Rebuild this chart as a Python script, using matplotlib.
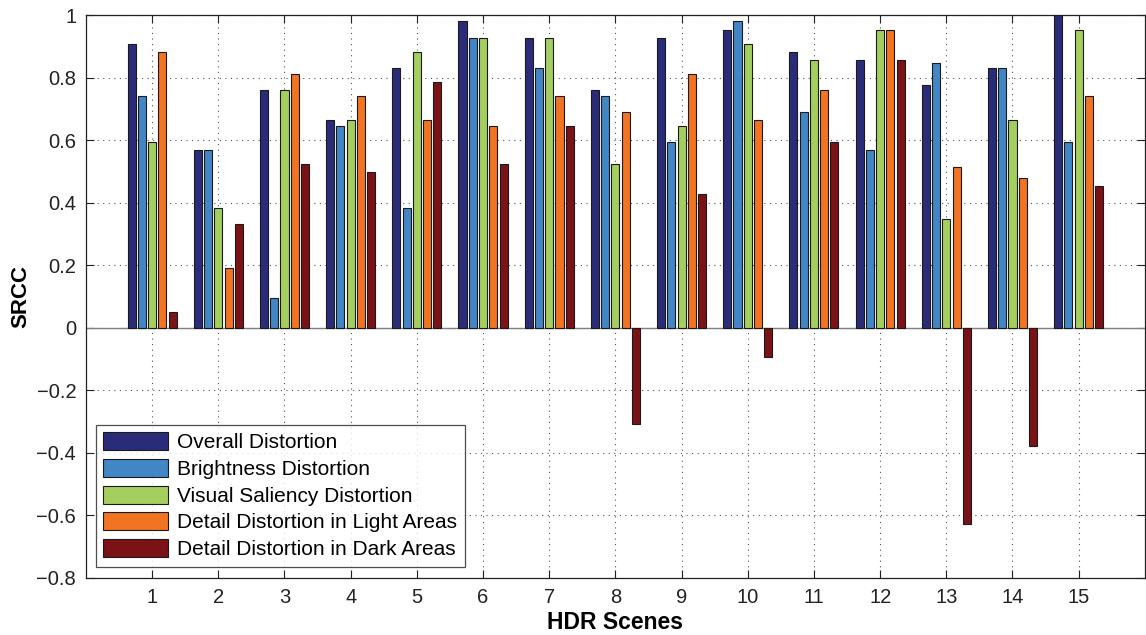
import numpy as np
import matplotlib
matplotlib.use("Agg")
import matplotlib.pyplot as plt

plt.rcParams['font.family'] = ['Liberation Sans', 'DejaVu Sans']

# SRCC per HDR scene
scenes = list(range(1, 16))
overall = [0.909, 0.569, 0.761, 0.666, 0.832, 0.980, 0.927, 0.761, 0.927, 0.954, 0.882, 0.858, 0.776, 0.832, 1.000]
brightness = [0.741, 0.569, 0.095, 0.646, 0.383, 0.927, 0.832, 0.741, 0.594, 0.980, 0.691, 0.569, 0.848, 0.832, 0.594]
saliency = [0.594, 0.383, 0.761, 0.666, 0.882, 0.927, 0.927, 0.524, 0.645, 0.909, 0.858, 0.954, 0.348, 0.666, 0.954]
light = [0.882, 0.190, 0.813, 0.741, 0.666, 0.645, 0.741, 0.691, 0.813, 0.666, 0.761, 0.954, 0.514, 0.478, 0.741]
dark = [0.049, 0.333, 0.524, 0.499, 0.787, 0.524, 0.645, -0.308, 0.428, -0.094, 0.594, 0.858, -0.629, -0.379, 0.453]

series_names = ['Overall Distortion', 'Brightness Distortion', 'Visual Saliency Distortion',
                'Detail Distortion in Light Areas', 'Detail Distortion in Dark Areas']
y_ticks = [-0.8, -0.6, -0.4, -0.2, 0, 0.2, 0.4, 0.6, 0.8, 1]
y_tick_labels = ['\u22120.8', '\u22120.6', '\u22120.4', '\u22120.2', '0', '0.2', '0.4', '0.6', '0.8', '1']

colors = ['#2a2c7a', '#4286c6', '#a4cf5f', '#f27322', '#7b1216']

fig = plt.figure(figsize=(11.46, 6.35), dpi=100)
ax = fig.add_axes([0.075, 0.09, 0.924, 0.886])

x = np.array(scenes)
step = 0.155
width = 0.122
for i, (vals, name, c) in enumerate(zip([overall, brightness, saliency, light, dark], series_names, colors)):
    ax.bar(x + (i - 2) * step, vals, width=width, color=c, edgecolor='#1a1a1a',
           linewidth=0.8, label=name, zorder=3)

# baseline at zero
ax.axhline(0, color='#808080', linewidth=1.0, zorder=2)

ax.set_xlim(0, 16)
ax.set_ylim(-0.8, 1)
ax.set_xticks(scenes)
ax.set_yticks(y_ticks)
ax.set_yticklabels(y_tick_labels)
ax.tick_params(direction='in', top=True, right=True, length=6, width=0.8,
               labelsize=14.5, colors='#222222', pad=7)
ax.grid(True, linestyle=(0, (1, 4)), color='#555555', linewidth=0.8, zorder=0)
for s in ax.spines.values():
    s.set_color('#222222')
    s.set_linewidth(0.9)

ax.set_xlabel('HDR Scenes', fontsize=16.5, fontweight='bold', labelpad=3)
ax.set_ylabel('SRCC', fontsize=16, fontweight='bold', labelpad=4)

leg = ax.legend(loc='lower left', bbox_to_anchor=(0.0095, 0.02), fontsize=15,
                frameon=True, fancybox=False, edgecolor='#222222',
                handlelength=3.1, handleheight=0.95, handletextpad=0.45,
                labelspacing=0.32, borderpad=0.35, borderaxespad=0)
leg.get_frame().set_linewidth(0.9)

fig.savefig('out.png', dpi=100)
